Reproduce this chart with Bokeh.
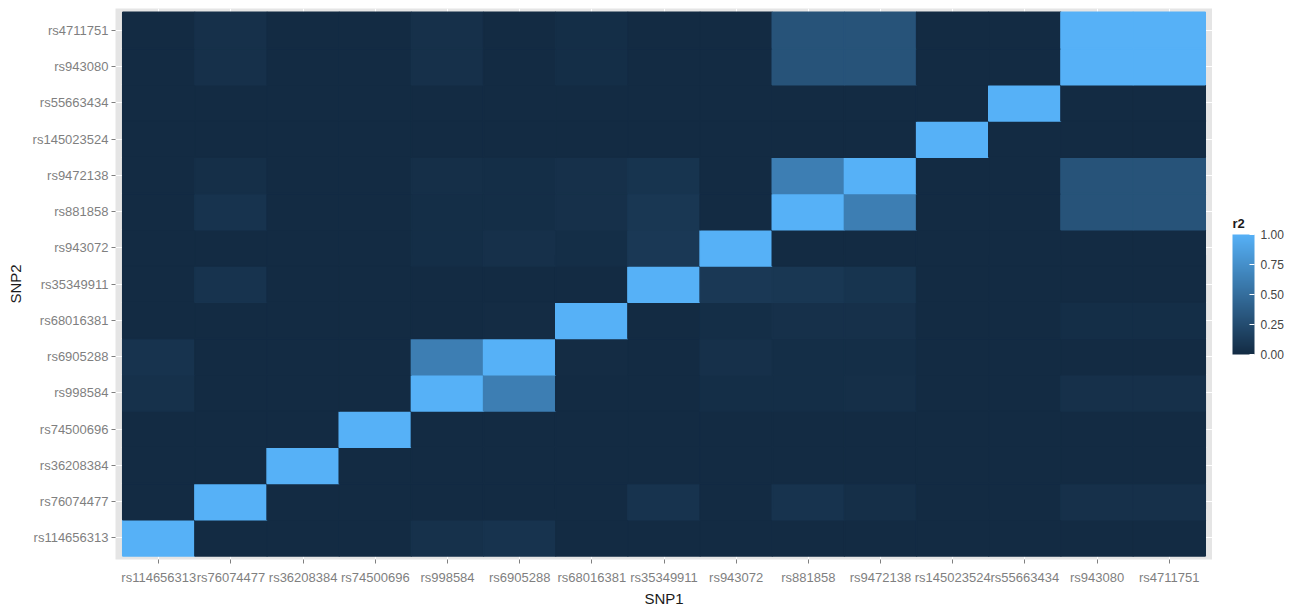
from bokeh.plotting import figure
from bokeh.layouts import row
from bokeh.models import (ColumnDataSource, LinearColorMapper, ColorBar, FixedTicker,
                          PrintfTickFormatter, FactorRange, Range1d, Label)
from bokeh.transform import transform
from bokeh.embed import file_html
from bokeh.resources import INLINE

# SNP order (SNP1 left->right, SNP2 bottom->top)
snps = ["rs114656313", "rs76074477", "rs36208384", "rs74500696", "rs998584",
        "rs6905288", "rs68016381", "rs35349911", "rs943072", "rs881858",
        "rs9472138", "rs145023524", "rs55663434", "rs943080", "rs4711751"]

# r2 values: one list per SNP2 (bottom -> top), entries follow SNP1 order
r2_rs114656313 = [1, 0, 0, 0, .05, .06, 0, 0, 0, 0, 0, 0, 0, 0, 0]
r2_rs76074477  = [0, 1, 0, 0, 0, 0, 0, .06, 0, .06, .03, 0, 0, .04, .04]
r2_rs36208384  = [0, 0, 1, 0, 0, 0, 0, 0, 0, 0, 0, 0, 0, 0, 0]
r2_rs74500696  = [0, 0, 0, 1, 0, 0, 0, 0, 0, 0, 0, 0, 0, 0, 0]
r2_rs998584    = [.05, 0, 0, 0, 1, .62, 0, 0, .02, .02, .03, 0, 0, .04, .04]
r2_rs6905288   = [.06, 0, 0, 0, .62, 1, .01, 0, .04, .02, .02, 0, 0, 0, 0]
r2_rs68016381  = [0, 0, 0, 0, 0, .01, 1, 0, .02, .04, .04, 0, 0, .02, .02]
r2_rs35349911  = [0, .06, 0, 0, 0, 0, 0, 1, .10, .09, .07, 0, 0, 0, 0]
r2_rs943072    = [0, 0, 0, 0, .02, .04, .02, .10, 1, 0, 0, 0, 0, 0, 0]
r2_rs881858    = [0, .06, 0, 0, .02, .02, .04, .09, 0, 1, .62, 0, 0, .30, .30]
r2_rs9472138   = [0, .03, 0, 0, .03, .02, .04, .07, 0, .62, 1, 0, 0, .30, .30]
r2_rs145023524 = [0, 0, 0, 0, 0, 0, 0, 0, 0, 0, 0, 1, 0, 0, 0]
r2_rs55663434  = [0, 0, 0, 0, 0, 0, 0, 0, 0, 0, 0, 0, 1, 0, 0]
r2_rs943080    = [0, .04, 0, 0, .04, 0, .02, 0, 0, .30, .30, 0, 0, 1, 1]
r2_rs4711751   = [0, .04, 0, 0, .04, 0, .02, 0, 0, .30, .30, 0, 0, 1, 1]

r2_rows = [r2_rs114656313, r2_rs76074477, r2_rs36208384, r2_rs74500696, r2_rs998584,
           r2_rs6905288, r2_rs68016381, r2_rs35349911, r2_rs943072, r2_rs881858,
           r2_rs9472138, r2_rs145023524, r2_rs55663434, r2_rs943080, r2_rs4711751]

legend_ticks = [0, 0.25, 0.5, 0.75, 1.0]

snp1, snp2, r2 = [], [], []
for j, row_vals in enumerate(r2_rows):
    for i, v in enumerate(row_vals):
        snp1.append(snps[i])
        snp2.append(snps[j])
        r2.append(v)
src = ColumnDataSource(dict(snp1=snp1, snp2=snp2, r2=r2))

# ggplot-style gradient #132B43 -> #56B1F7
lo = (0x13, 0x2B, 0x43)
hi = (0x56, 0xB1, 0xF7)
palette = []
n = 256
for k in range(n):
    t = k / (n - 1)
    c = tuple(int(round(lo[m] + (hi[m] - lo[m]) * t)) for m in range(3))
    palette.append("#%02x%02x%02x" % c)
mapper = LinearColorMapper(palette=palette, low=0, high=1)

FONT = "Liberation Sans"

p = figure(width=1212, height=609,
           x_range=FactorRange(factors=snps, range_padding=0.1, range_padding_units="absolute"),
           y_range=FactorRange(factors=snps, range_padding=0.1, range_padding_units="absolute"),
           output_backend="svg", toolbar_location=None,
           min_border_left=115, min_border_right=0, min_border_top=8, min_border_bottom=46)
p.background_fill_color = "#E5E5E5"
p.border_fill_color = "white"
p.outline_line_color = None

p.rect(x="snp1", y="snp2", width=1, height=1, source=src,
       fill_color=transform("r2", mapper), line_color=transform("r2", mapper), line_width=1.5)

for g in (p.xgrid, p.ygrid):
    g.grid_line_color = "white"
    g.grid_line_width = 1

for ax in (p.xaxis, p.yaxis):
    ax.axis_line_color = None
    ax.major_tick_line_color = "#7F7F7F"
    ax.major_tick_out = 4
    ax.major_tick_in = 0
    ax.minor_tick_line_color = None
    ax.major_label_text_font = FONT
    ax.major_label_text_font_size = "13px"
    ax.major_label_text_color = "#7F7F7F"
    ax.axis_label_text_font = FONT
    ax.axis_label_text_font_size = "15px"
    ax.axis_label_text_font_style = "normal"
    ax.axis_label_text_color = "#1A1A1A"

p.xaxis.axis_label = "SNP1"
p.yaxis.axis_label = "SNP2"
p.xaxis.major_label_standoff = 6
p.yaxis.major_label_standoff = 3
p.xaxis.axis_label_standoff = 2
p.yaxis.axis_label_standoff = 6

# legend panel: a small companion figure holding the colour bar
leg = figure(width=83, height=609, x_range=Range1d(0, 1), y_range=Range1d(0, 1),
             x_axis_type=None, y_axis_type=None,
             output_backend="svg", toolbar_location=None,
             min_border_left=0, min_border_right=0, min_border_top=0, min_border_bottom=0)
leg.outline_line_color = None
leg.background_fill_color = "white"
leg.border_fill_color = "white"
leg.xgrid.visible = False
leg.ygrid.visible = False

cb = ColorBar(color_mapper=mapper, ticker=FixedTicker(ticks=legend_ticks),
              formatter=PrintfTickFormatter(format="%.2f"),
              orientation="vertical",
              width=22, height=120,
              major_label_text_font=FONT, major_label_text_font_size="12px",
              major_label_text_color="#444444",
              major_tick_line_color="white", major_tick_in=5, major_tick_out=0,
              minor_tick_line_color=None,
              label_standoff=6, bar_line_color=None, border_line_color=None,
              background_fill_color=None, padding=0, margin=0,
              location=(20, 205))
leg.add_layout(cb, "center")

title_lbl = Label(x=20, y=329, x_units="screen", y_units="screen", text="r2",
                  text_font=FONT, text_font_style="bold", text_font_size="13px",
                  text_color="#1A1A1A", text_baseline="bottom", text_align="left")
leg.add_layout(title_lbl)

layout = row(p, leg, spacing=0)

open("out.html", "w").write(file_html(layout, INLINE))
